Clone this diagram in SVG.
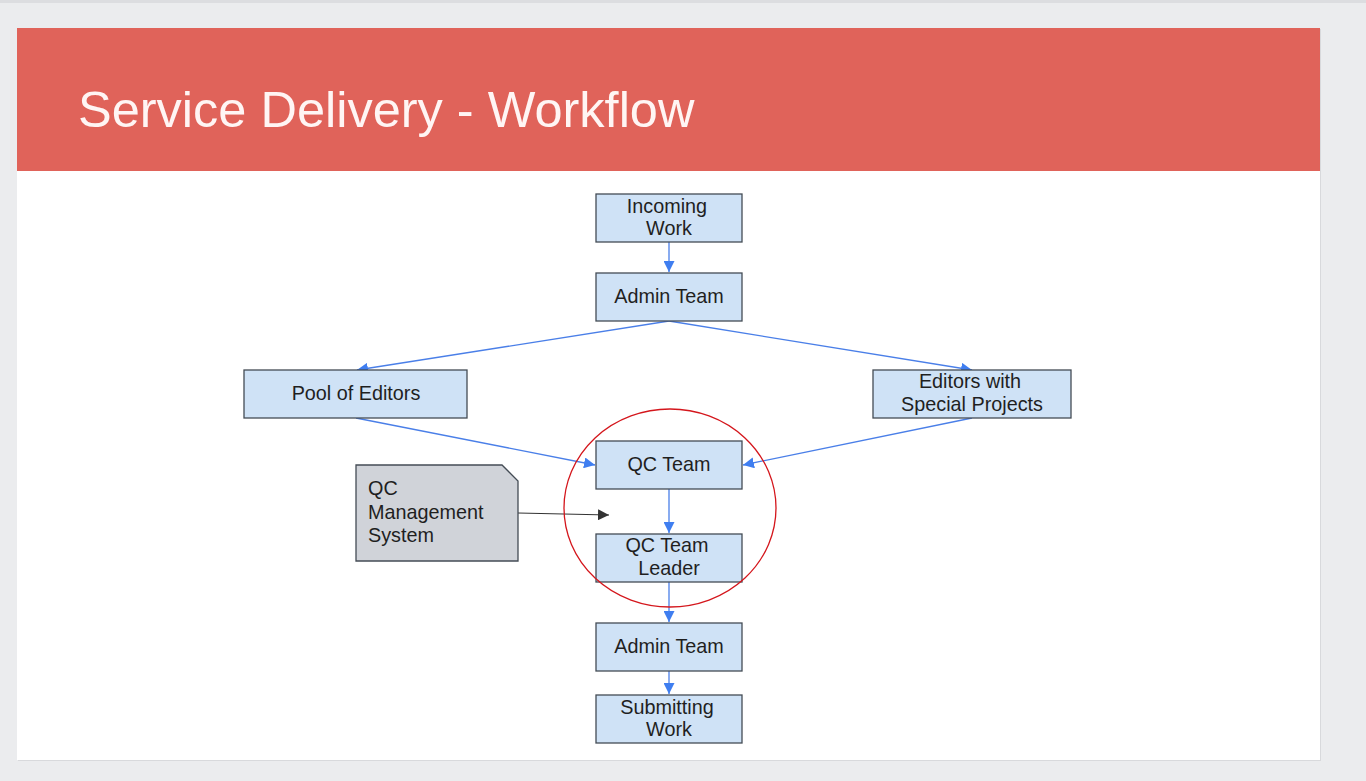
<svg xmlns="http://www.w3.org/2000/svg" width="1366" height="781" viewBox="0 0 1366 781">
<style>
.n rect{fill:#cfe2f6;stroke:#444c55;stroke-width:1.3}
.t{font-family:"Liberation Sans",Arial,sans-serif;font-size:19.8px;fill:#1f1f1f;text-anchor:middle}
.c{stroke:#4a7fe8;stroke-width:1.3;fill:none;marker-end:url(#ab)}
</style>
<defs>
<marker id="ab" viewBox="0 0 10 10" refX="10" refY="5" markerWidth="11" markerHeight="11" markerUnits="userSpaceOnUse" orient="auto"><path d="M0,0 L10,5 L0,10 Z" fill="#3f7ef0"/></marker>
<marker id="ak" viewBox="0 0 10 10" refX="10" refY="5" markerWidth="11" markerHeight="11" markerUnits="userSpaceOnUse" orient="auto"><path d="M0,0 L10,5 L0,10 Z" fill="#333"/></marker>
</defs>
<rect width="1366" height="781" fill="#ebecee"/>
<rect x="0" y="0" width="1366" height="3" fill="#dcdde0"/>
<rect x="18" y="29" width="1303" height="732" fill="#d8d9dc"/>
<rect x="17" y="28" width="1303" height="732" fill="#ffffff"/>
<rect x="17" y="28" width="1303" height="143" fill="#e0635a"/>
<text x="78" y="127" font-family="'Liberation Sans',Arial,sans-serif" font-size="50.5" fill="#fff5f4">Service Delivery - Workflow</text>

<g id="connectors">
<line class="c" x1="669" y1="242" x2="669" y2="272"/>
<line class="c" x1="669" y1="321" x2="357" y2="370"/>
<line class="c" x1="669" y1="321" x2="972" y2="370"/>
<line class="c" x1="356" y1="418" x2="595" y2="465"/>
<line class="c" x1="972" y1="418" x2="743" y2="465"/>
<line class="c" x1="669" y1="489" x2="669" y2="533"/>
<line class="c" x1="669" y1="582" x2="669" y2="622"/>
<line class="c" x1="669" y1="671" x2="669" y2="694"/>
<line x1="518" y1="513" x2="609" y2="515" stroke="#333" stroke-width="1.2" marker-end="url(#ak)"/>
</g>

<g id="incoming" class="n"><rect x="596" y="194" width="146" height="48"/><text class="t" x="667" y="213">Incoming</text><text class="t" x="669" y="235">Work</text></g>
<g id="admin1" class="n"><rect x="596" y="273" width="146" height="48"/><text class="t" x="669" y="303">Admin Team</text></g>
<g id="pool" class="n"><rect x="244" y="370" width="223" height="48"/><text class="t" x="356" y="400">Pool of Editors</text></g>
<g id="special" class="n"><rect x="873" y="370" width="198" height="48"/><text class="t" x="970" y="388">Editors with</text><text class="t" x="972" y="411">Special Projects</text></g>
<g id="qcteam" class="n"><rect x="596" y="441" width="146" height="48"/><text class="t" x="669" y="471">QC Team</text></g>
<g id="qcleader" class="n"><rect x="596" y="534" width="146" height="48"/><text class="t" x="667" y="552">QC Team</text><text class="t" x="669" y="575">Leader</text></g>
<g id="admin2" class="n"><rect x="596" y="623" width="146" height="48"/><text class="t" x="669" y="653">Admin Team</text></g>
<g id="submit" class="n"><rect x="596" y="695" width="146" height="48"/><text class="t" x="667" y="714">Submitting</text><text class="t" x="669" y="736">Work</text></g>
<g id="qcms"><path d="M356,465 H502 L518,481 V561 H356 Z" fill="#d0d3d9" stroke="#444c55" stroke-width="1.3"/>
<text font-family="'Liberation Sans',Arial,sans-serif" font-size="19.8" fill="#1f1f1f"><tspan x="368" y="495">QC</tspan><tspan x="368" y="519">Management</tspan><tspan x="368" y="542">System</tspan></text></g>
<ellipse id="highlight" cx="670" cy="508" rx="106" ry="99" fill="none" stroke="#d4161c" stroke-width="1.3"/>
</svg>
